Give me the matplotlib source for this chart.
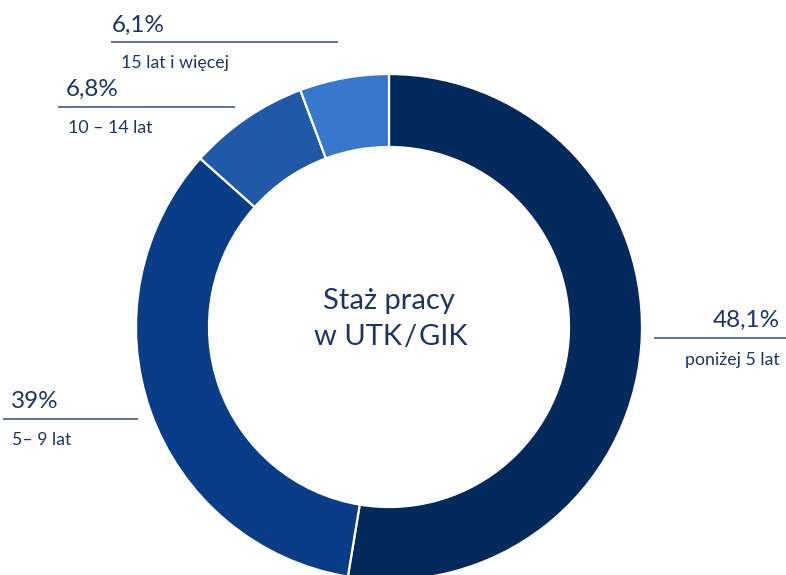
import matplotlib
matplotlib.use("Agg")
import matplotlib.pyplot as plt

# Data
categories = ["poniżej 5 lat", "5– 9 lat", "10 – 14 lat", "15 lat i więcej"]
label_values = ["48,1%", "39%", "6,8%", "6,1%"]
# slice sizes as drawn in the reference picture (measured angles, %)
shares = [52.6, 34.0, 7.7, 5.7]
colors = ["#04295c", "#0a3d87", "#1f59a8", "#3878cc"]
title_lines = ["Staż pracy", "w UTK\u200a/\u200aGIK"]

W, H = 786, 575
fig = plt.figure(figsize=(W / 100, H / 100), dpi=100)
ax = fig.add_axes([0, 0, 1, 1])
ax.set_xlim(0, W)
ax.set_ylim(0, H)
ax.set_aspect("equal")
ax.axis("off")

cx, cy = 389, H - 327
R, r_in = 253, 180
ax.pie(shares, colors=colors, startangle=90, counterclock=False,
       center=(cx, cy), radius=R, frame=True,
       wedgeprops=dict(width=R - r_in, edgecolor="white", linewidth=1.6))
ax.set_xlim(0, W)
ax.set_ylim(0, H)
ax.axis("off")

txt = "#1d3566"
lc = "#44597f"
font = ["Lato", "DejaVu Sans"]

def Y(py):
    return H - py

# label specs: (pct x, pct baseline, ha, line x0, x1, line y, cat x, cat baseline)
specs = [
    (780, 327, "right", 654, 786, 338, 780, 365),  # 48,1%
    (11, 408, "left", 3, 138, 419, 12, 445),       # 39%
    (66, 96, "left", 58, 235, 107, 68, 133),       # 6,8%
    (112, 32, "left", 111, 338, 42, 121, 68),      # 6,1%
]
for i, (px, pb, ha, x0, x1, ly, cxl, cb) in enumerate(specs):
    ax.text(px, Y(pb), label_values[i], ha=ha, va="baseline",
            fontsize=17.5, color=txt, family=font)
    ax.plot([x0, x1], [Y(ly), Y(ly)], color=lc, lw=1.2, solid_capstyle="butt")
    ax.text(cxl, Y(cb), categories[i], ha=ha, va="baseline",
            fontsize=12.8, color=txt, family=font)

ax.text(cx, Y(309), title_lines[0], ha="center", va="baseline",
        fontsize=21, color=txt, family=font)
ax.text(cx + 2, Y(345), title_lines[1], ha="center", va="baseline",
        fontsize=21, color=txt, family=font)

fig.savefig("out.png", dpi=100)
